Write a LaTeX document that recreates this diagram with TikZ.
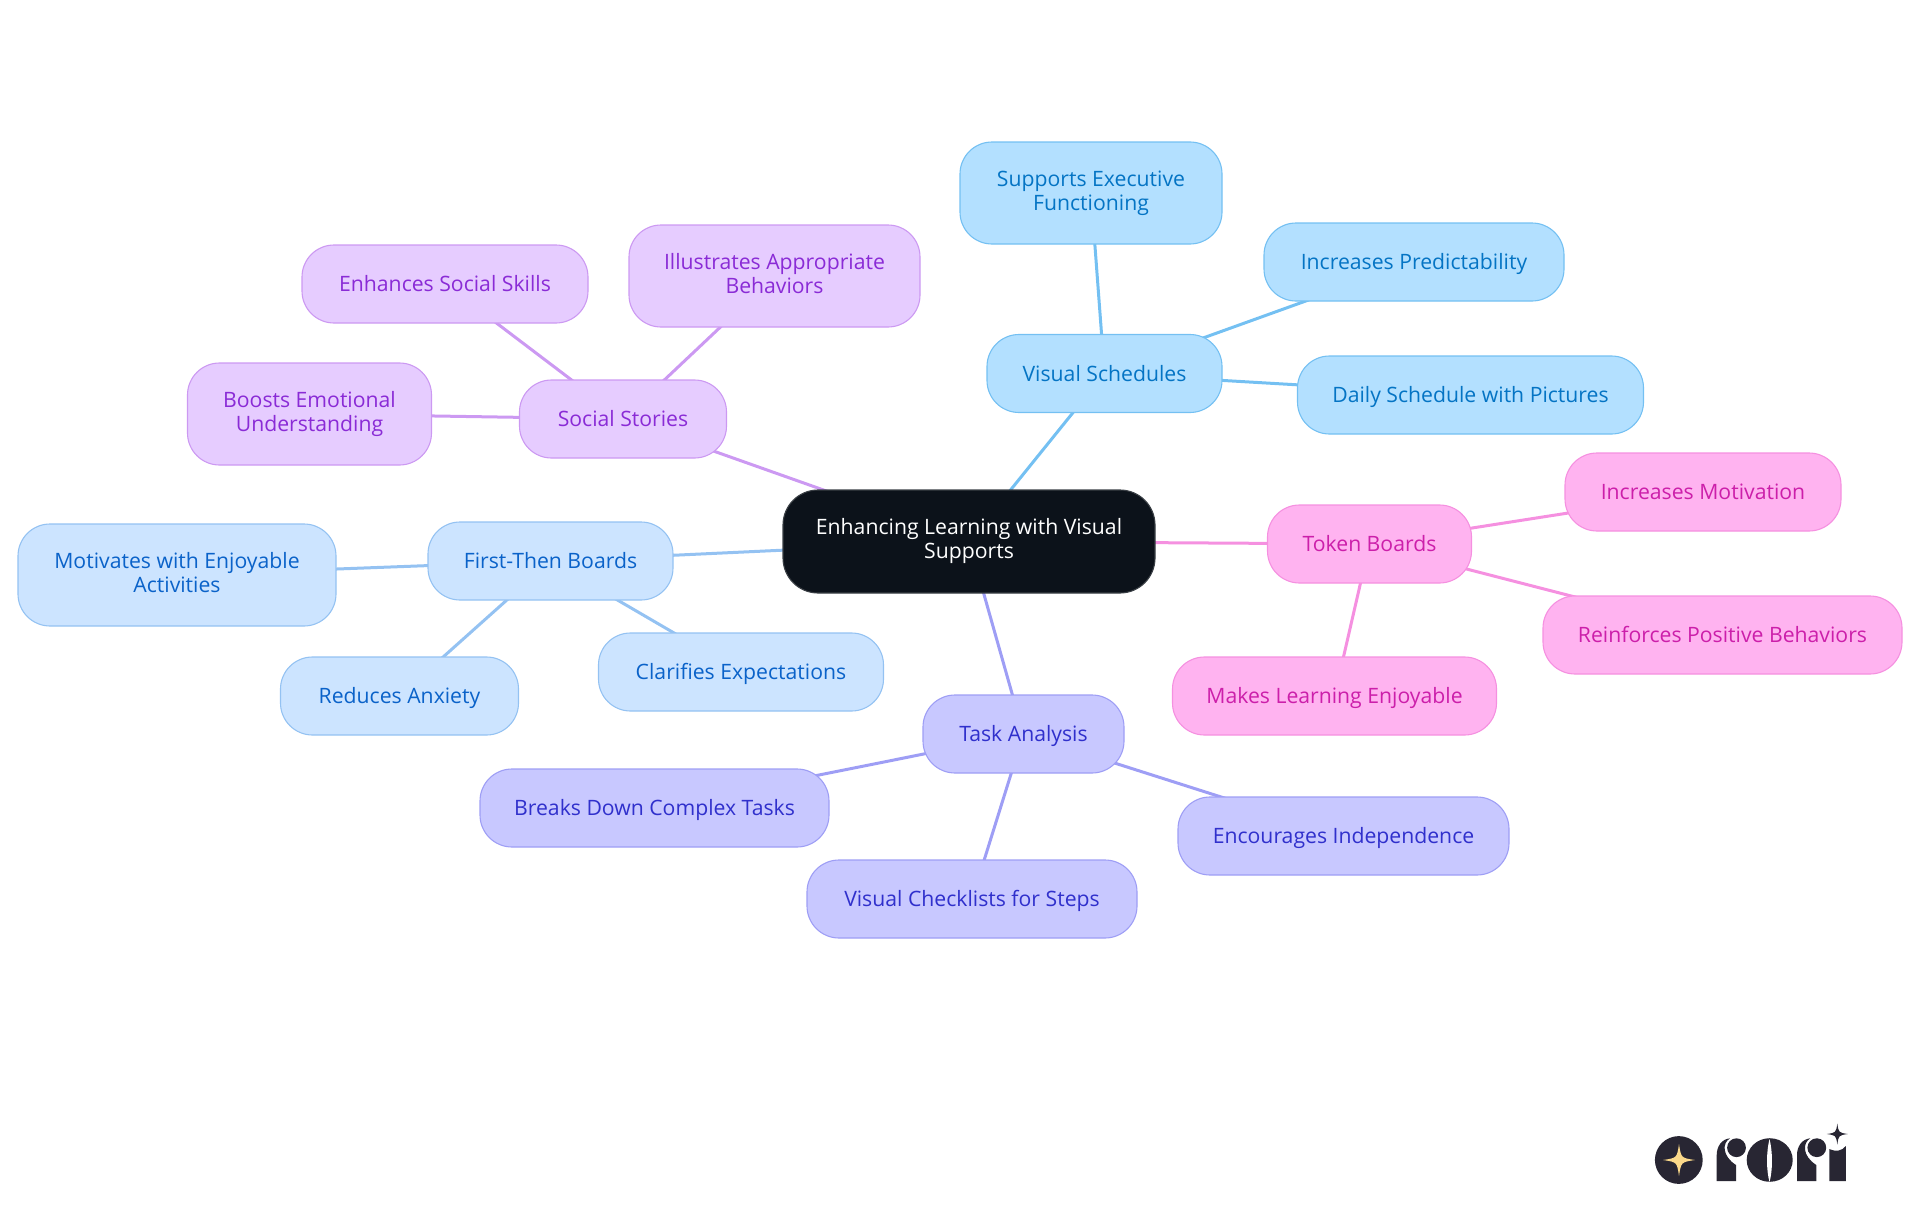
\documentclass[tikz,border=0pt]{standalone}
\usepackage{fontspec}
\setmainfont{Open Sans}
\usetikzlibrary{backgrounds}
\definecolor{vsF}{HTML}{B3E0FF}\definecolor{vsD}{HTML}{74C0F2}\definecolor{vsT}{HTML}{0474C4}
\definecolor{ftF}{HTML}{CCE4FF}\definecolor{ftD}{HTML}{94C2F2}\definecolor{ftT}{HTML}{0A62C9}
\definecolor{ssF}{HTML}{E6CCFF}\definecolor{ssD}{HTML}{CC99F2}\definecolor{ssT}{HTML}{8A2BD6}
\definecolor{taF}{HTML}{C8C8FF}\definecolor{taD}{HTML}{9E9EF5}\definecolor{taT}{HTML}{3030CC}
\definecolor{tbF}{HTML}{FFB3F0}\definecolor{tbD}{HTML}{F590E0}\definecolor{tbT}{HTML}{CC1FAA}
\definecolor{rootF}{HTML}{0C121A}\definecolor{rootD}{HTML}{3A3F45}
\definecolor{logoD}{HTML}{282633}\definecolor{logoY}{HTML}{FBD98A}
\newcommand{\fourstar}[4]{\fill[#4] (#1+#3,#2) .. controls (#1+0.13*#3,#2+0.13*#3) .. (#1,#2+#3) .. controls (#1-0.13*#3,#2+0.13*#3) .. (#1-#3,#2) .. controls (#1-0.13*#3,#2-0.13*#3) .. (#1,#2-#3) .. controls (#1+0.13*#3,#2-0.13*#3) .. cycle;}
\newcommand{\logor}[1]{%
 \fill[logoD,xshift=#1] (1716.7,1181) -- (1716.7,1155) .. controls (1716.7,1146) and (1722,1139) .. (1730,1138.3) .. controls (1722,1143) and (1722,1156) .. (1736,1165) -- (1736,1181) -- cycle;
 \fill[logoD,xshift=#1] (1736.5,1147.7) circle (9.4);}
\newcommand{\firststrut}{\rule[-5.5pt]{0pt}{26pt}}
\newcommand{\laststrut}{\rule[-5.5pt]{0pt}{12pt}}
\tikzset{
 box/.style={rounded corners=32pt,line width=1.1pt,inner sep=0pt,align=center,font=\fontsize{21.2}{24}\selectfont,
  execute at begin node=\firststrut,execute at end node=\laststrut},
 vsbox/.style={box,draw=vsD,fill=vsF,text=vsT},
 ftbox/.style={box,draw=ftD,fill=ftF,text=ftT},
 ssbox/.style={box,draw=ssD,fill=ssF,text=ssT},
 tabox/.style={box,draw=taD,fill=taF,text=taT},
 tbbox/.style={box,draw=tbD,fill=tbF,text=tbT},
 rootbox/.style={box,rounded corners=35pt,draw=rootD,fill=rootF,text=white},
 link/.style={line width=3pt},
}
\begin{document}
\begin{tikzpicture}[x=1pt,y=-1pt]
\useasboundingbox (0,0) rectangle (1920,1215);
\node[rootbox,minimum width=372,minimum height=103] (root) at (969,541.5) {Enhancing Learning with Visual\\Supports};
\node[vsbox,minimum width=235,minimum height=78] (vs) at (1104.5,373.5) {Visual Schedules};
\node[vsbox,minimum width=262,minimum height=102] (vs1) at (1091,193) {Supports Executive\\Functioning};
\node[vsbox,minimum width=300,minimum height=78] (vs2) at (1414,262) {Increases Predictability};
\node[vsbox,minimum width=346,minimum height=78] (vs3) at (1470.5,395) {Daily Schedule with Pictures};
\node[tbbox,minimum width=204,minimum height=78] (tb) at (1369.5,544) {Token Boards};
\node[tbbox,minimum width=276,minimum height=78] (tb1) at (1703,492) {Increases Motivation};
\node[tbbox,minimum width=359,minimum height=78] (tb2) at (1722.5,635) {Reinforces Positive Behaviors};
\node[tbbox,minimum width=324,minimum height=78] (tb3) at (1334.5,696) {Makes Learning Enjoyable};
\node[tabox,minimum width=201,minimum height=78] (ta) at (1023.5,734) {Task Analysis};
\node[tabox,minimum width=331,minimum height=78] (ta1) at (1343.5,836) {Encourages Independence};
\node[tabox,minimum width=330,minimum height=78] (ta2) at (972,899) {Visual Checklists for Steps};
\node[tabox,minimum width=349,minimum height=78] (ta3) at (654.5,808) {Breaks Down Complex Tasks};
\node[ftbox,minimum width=245,minimum height=78] (ft) at (550.5,561) {First-Then Boards};
\node[ftbox,minimum width=318,minimum height=102] (ft1) at (177,575) {Motivates with Enjoyable\\Activities};
\node[ftbox,minimum width=238,minimum height=78] (ft2) at (399.5,696) {Reduces Anxiety};
\node[ftbox,minimum width=285,minimum height=78] (ft3) at (741,672) {Clarifies Expectations};
\node[ssbox,minimum width=207,minimum height=78] (ss) at (623,419) {Social Stories};
\node[ssbox,minimum width=244,minimum height=102] (ss1) at (309.5,414) {Boosts Emotional\\Understanding};
\node[ssbox,minimum width=286,minimum height=78] (ss2) at (445,284) {Enhances Social Skills};
\node[ssbox,minimum width=291,minimum height=102] (ss3) at (774.5,276) {Illustrates Appropriate\\Behaviors};
\begin{scope}[on background layer]
\draw[link,vsD] (root.center)--(vs.center) (vs.center)--(vs1.center) (vs.center)--(vs2.center) (vs.center)--(vs3.center);
\draw[link,tbD] (root.center)--(tb.center) (tb.center)--(tb1.center) (tb.center)--(tb2.center) (tb.center)--(tb3.center);
\draw[link,taD] (root.center)--(ta.center) (ta.center)--(ta1.center) (ta.center)--(ta2.center) (ta.center)--(ta3.center);
\draw[link,ftD] (root.center)--(ft.center) (ft.center)--(ft1.center) (ft.center)--(ft2.center) (ft.center)--(ft3.center);
\draw[link,ssD] (root.center)--(ss.center) (ss.center)--(ss1.center) (ss.center)--(ss2.center) (ss.center)--(ss3.center);
\end{scope}
% logo
\fill[logoD] (1678.8,1160) circle (23.9);
\fourstar{1679}{1160}{16}{logoY}
\logor{0}
\logor{80.3}
\fill[logoD] (1769.7,1160) ellipse (23 and 21.8);
\fill[white] (1769.5,1139) .. controls (1766.2,1152) and (1766.2,1170) .. (1769.5,1182) .. controls (1772.8,1170) and (1772.8,1152) .. (1769.5,1139) -- cycle;
\fill[logoD] (1829.3,1181) -- (1829.3,1149) .. controls (1836,1152) and (1842,1151) .. (1845.8,1146) -- (1845.8,1181) -- cycle;
\fourstar{1837.3}{1134}{10.5}{logoD}
\end{tikzpicture}
\end{document}
